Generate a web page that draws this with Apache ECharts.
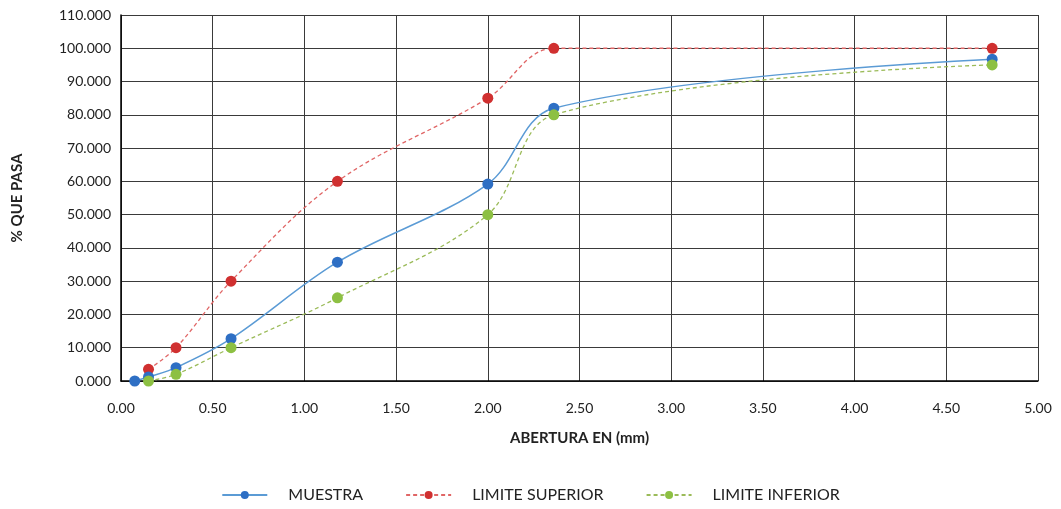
<!DOCTYPE html>
<html><head><meta charset="utf-8">
<script src="https://cdn.jsdelivr.net/npm/echarts@6/dist/echarts.min.js"></script>
<style>html,body{margin:0;padding:0;background:#fff}#c{width:1061px;height:509px}</style>
</head><body><div id="c"></div>
<script>
const muestraX = [0.075, 0.15, 0.3, 0.6, 1.18, 2.0, 2.36, 4.75];
const muestraY = [0.0, 1.2, 4.0, 12.7, 35.7, 59.2, 82.0, 96.7];
const superiorX = [0.15, 0.3, 0.6, 1.18, 2.0, 2.36, 4.75];
const superiorY = [3.5, 10, 30, 60, 85, 100, 100];
const inferiorX = [0.15, 0.3, 0.6, 1.18, 2.0, 2.36, 4.75];
const inferiorY = [0, 2, 10, 25, 50, 80, 95];
const seriesNames = ['MUESTRA', 'LIMITE SUPERIOR', 'LIMITE INFERIOR'];
const xTitle = 'ABERTURA EN (mm)';
const yTitle = '% QUE PASA';

const pair = (xs, ys) => xs.map((x, i) => [x, ys[i]]);
const font = 'Lato, "Open Sans", sans-serif';
const chart = echarts.init(document.getElementById('c'));
chart.setOption({
  animation: false,
  grid: {left: 121, right: 23, top: 15, bottom: 128, containLabel: false},
  xAxis: {
    type: 'value', min: 0, max: 5, interval: 0.5,
    name: xTitle, nameLocation: 'middle', nameGap: 50,
    nameTextStyle: {fontFamily: font, fontWeight: 'bold', fontSize: 15, color: '#222'},
    axisLine: {lineStyle: {color: '#000', width: 1.5}},
    axisTick: {show: false},
    axisLabel: {formatter: v => v.toFixed(2), fontFamily: font, fontSize: 14, color: '#222', margin: 20},
    splitLine: {show: true, lineStyle: {color: '#3a3a3a', width: 1}}
  },
  yAxis: {
    type: 'value', min: 0, max: 110, interval: 10,
    name: yTitle, nameLocation: 'middle', nameGap: 96, nameRotate: 90,
    nameTextStyle: {fontFamily: font, fontWeight: 'bold', fontSize: 15, color: '#222'},
    axisLine: {show: true, lineStyle: {color: '#000', width: 1.5}},
    axisTick: {show: false},
    axisLabel: {formatter: v => v.toFixed(3), fontFamily: font, fontSize: 14, color: '#222', margin: 10},
    splitLine: {show: true, lineStyle: {color: '#3a3a3a', width: 1}}
  },
  legend: {
    bottom: 1, left: 'center', itemGap: 42, itemWidth: 45, itemHeight: 10,
    textStyle: {fontFamily: font, fontSize: 16, color: '#222', padding: [0, 0, 0, 16]},
    data: seriesNames
  },
  series: [
    {name: seriesNames[0], type: 'line', data: pair(muestraX, muestraY), smooth: 0.35,
     symbol: 'circle', symbolSize: 11, z: 3,
     lineStyle: {color: '#5B9BD5', width: 1.5},
     itemStyle: {color: '#2E6FC4'}},
    {name: seriesNames[1], type: 'line', data: pair(superiorX, superiorY), smooth: 0.35,
     symbol: 'circle', symbolSize: 11, z: 2,
     lineStyle: {color: '#E06666', width: 1.3, type: [4, 3]},
     itemStyle: {color: '#D03030'}},
    {name: seriesNames[2], type: 'line', data: pair(inferiorX, inferiorY), smooth: 0.35,
     symbol: 'circle', symbolSize: 11, z: 4,
     lineStyle: {color: '#9BBB59', width: 1.3, type: [4, 3]},
     itemStyle: {color: '#8DC043'}}
  ]
});
</script></body></html>
